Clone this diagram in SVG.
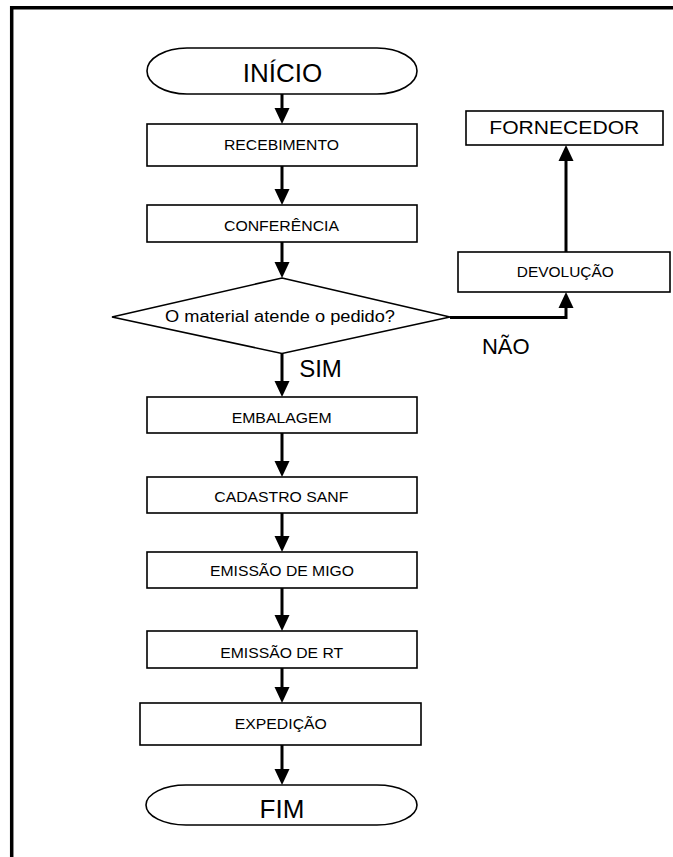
<svg xmlns="http://www.w3.org/2000/svg" width="673" height="857" viewBox="0 0 673 857">
<style>
  .box { fill: #fff; stroke: #000; stroke-width: 1.6; }
  .t { font-family: "Liberation Sans", Arial, sans-serif; fill: #000; text-anchor: middle; }
  .s { font-size: 15px; }
  .conn { fill: none; stroke: #000; stroke-width: 3; }
</style>
<defs>
  <marker id="ah" viewBox="0 0 16 16" refX="4" refY="8" markerWidth="16" markerHeight="16" markerUnits="userSpaceOnUse" orient="auto">
    <path d="M0,0.5 L16,8 L0,15.5 z" fill="#000"/>
  </marker>
</defs>
<rect width="673" height="857" fill="#fff"/>
<path d="M11.7,857 V7.7 H673" fill="none" stroke="#000" stroke-width="3.5"/>

<g id="connectors">
  <path class="conn" d="M282,94 V112" marker-end="url(#ah)"/>
  <path class="conn" d="M282,166 V193" marker-end="url(#ah)"/>
  <path class="conn" d="M282,242 V266" marker-end="url(#ah)"/>
  <path class="conn" d="M282,353.5 V385" marker-end="url(#ah)"/>
  <path class="conn" d="M282,433 V465" marker-end="url(#ah)"/>
  <path class="conn" d="M282,513 V540" marker-end="url(#ah)"/>
  <path class="conn" d="M282,588 V619" marker-end="url(#ah)"/>
  <path class="conn" d="M282,668 V691" marker-end="url(#ah)"/>
  <path class="conn" d="M282,745 V773" marker-end="url(#ah)"/>
  <path class="conn" d="M450,317.5 H566 V304" marker-end="url(#ah)"/>
  <path class="conn" d="M566,252 V157" marker-end="url(#ah)"/>
</g>

<g id="inicio">
  <rect class="box" x="147" y="48" width="270" height="46" rx="40" ry="23"/>
  <text class="t" x="282.5" y="82" font-size="26">INÍCIO</text>
</g>
<g id="recebimento">
  <rect class="box" x="147" y="124" width="270" height="42"/>
  <text class="t s" x="281.5" y="150" textLength="115" lengthAdjust="spacingAndGlyphs">RECEBIMENTO</text>
</g>
<g id="conferencia">
  <rect class="box" x="147" y="205" width="270" height="37"/>
  <text class="t s" x="281.5" y="231" textLength="115" lengthAdjust="spacingAndGlyphs">CONFERÊNCIA</text>
</g>
<g id="decisao">
  <polygon class="box" points="282,278 450,317 282,353.5 112,317"/>
  <text class="t" x="280" y="322" font-size="16" textLength="230" lengthAdjust="spacingAndGlyphs">O material atende o pedido?</text>
</g>
<g id="label-nao">
  <text class="t" x="505.8" y="354.3" font-size="22">NÃO</text>
</g>
<g id="label-sim">
  <text class="t" x="320.5" y="376.7" font-size="24">SIM</text>
</g>
<g id="devolucao">
  <rect class="box" x="458" y="252" width="212" height="40"/>
  <text class="t s" x="565.3" y="277" textLength="97" lengthAdjust="spacingAndGlyphs">DEVOLUÇÃO</text>
</g>
<g id="fornecedor">
  <rect class="box" x="466" y="111" width="197" height="34"/>
  <text class="t" x="564.3" y="133.5" font-size="18" textLength="150" lengthAdjust="spacingAndGlyphs">FORNECEDOR</text>
</g>
<g id="embalagem">
  <rect class="box" x="147" y="397" width="270" height="36"/>
  <text class="t s" x="281.7" y="423" textLength="100" lengthAdjust="spacingAndGlyphs">EMBALAGEM</text>
</g>
<g id="cadastro">
  <rect class="box" x="147" y="477" width="270" height="36"/>
  <text class="t s" x="281.3" y="502" textLength="134" lengthAdjust="spacingAndGlyphs">CADASTRO SANF</text>
</g>
<g id="migo">
  <rect class="box" x="147" y="552" width="270" height="36"/>
  <text class="t s" x="282" y="576" textLength="144" lengthAdjust="spacingAndGlyphs">EMISSÃO DE MIGO</text>
</g>
<g id="rt">
  <rect class="box" x="147" y="631" width="270" height="37"/>
  <text class="t s" x="281.7" y="657.5" textLength="123" lengthAdjust="spacingAndGlyphs">EMISSÃO DE RT</text>
</g>
<g id="expedicao">
  <rect class="box" x="140" y="703" width="281" height="42"/>
  <text class="t s" x="280.8" y="728.5" textLength="92" lengthAdjust="spacingAndGlyphs">EXPEDIÇÃO</text>
</g>
<g id="fim">
  <rect class="box" x="146" y="785" width="271" height="40" rx="40" ry="20"/>
  <text class="t" x="282" y="818.3" font-size="26">FIM</text>
</g>
</svg>
